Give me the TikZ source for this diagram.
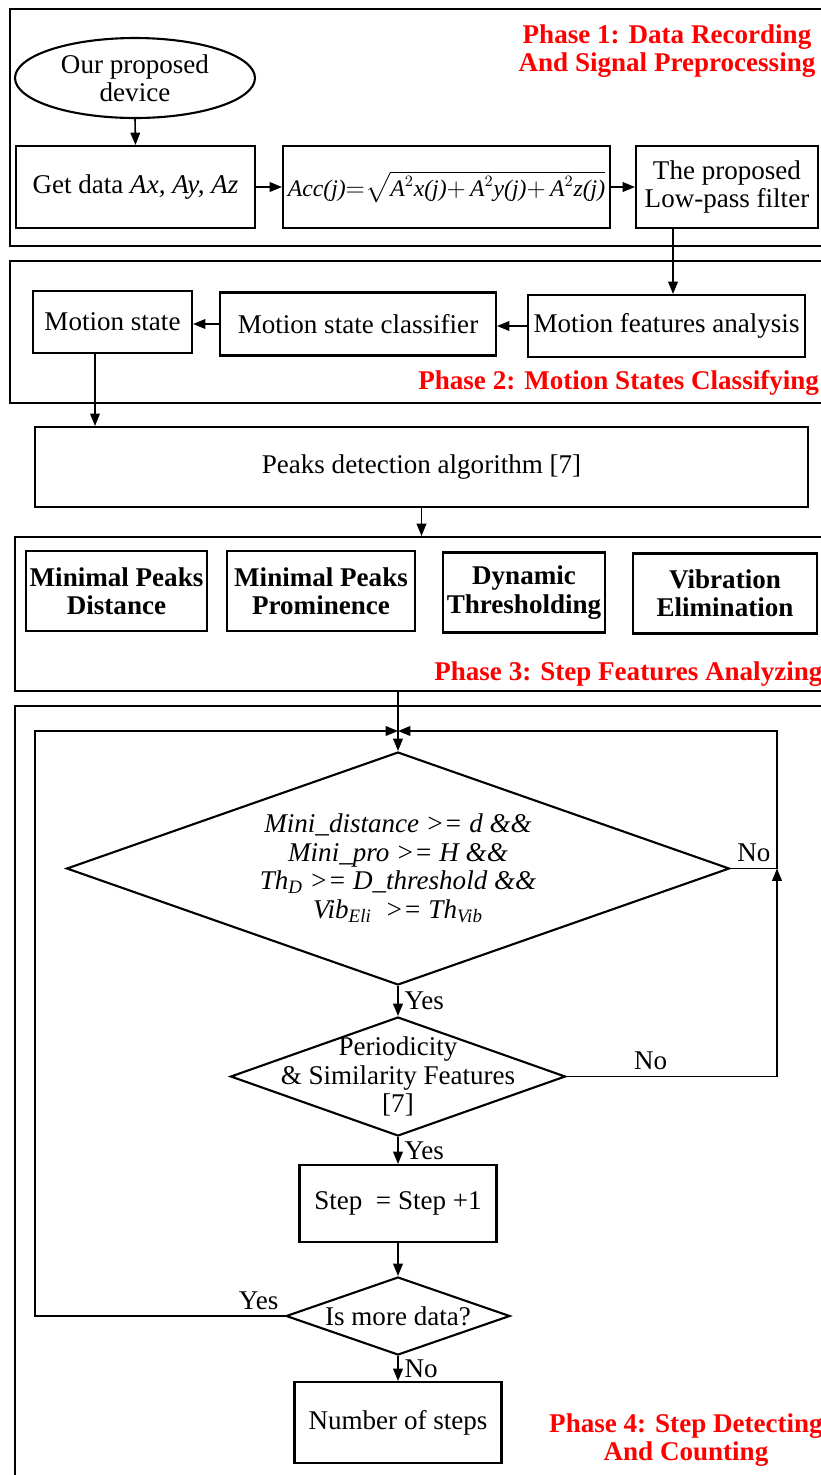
\documentclass[tikz,border=0pt]{standalone}
\usepackage{amsmath}
\usepackage{fontspec}
\setmainfont{Liberation Serif}
\usetikzlibrary{arrows.meta,shapes.geometric}
\newcommand{\nodefont}{\fontsize{15.4}{16.2}\selectfont}

\begin{document}
\begin{tikzpicture}[
    x=0.02cm, y=-0.02cm,
    every node/.style={font=\nodefont, align=center},
    box/.style={rectangle, draw, line width=1.2pt, inner sep=2pt},
    feat/.style={box, font=\nodefont\bfseries, minimum height=1.6cm},
    cond/.style={diamond, draw, line width=1.2pt, inner sep=0pt},
    phase/.style={rectangle, draw, line width=1.2pt},
    phasetitle/.style={text=red, font=\nodefont\bfseries, inner sep=0pt},
    arr/.style={-{Triangle[length=7pt,width=5.5pt]}, line width=0.9pt},
]
    \useasboundingbox (0,0) rectangle (821,1475);

    \node [phase, minimum width=16.5cm, minimum height=4.74cm] (ph1) at (422.5,127.5) {};
    \node [phase, minimum width=16.5cm, minimum height=2.84cm] (ph2) at (422.5,332) {};
    \node [phase, minimum width=16.4cm, minimum height=3.08cm] (ph3) at (425,614) {};
    \node [phase, minimum width=16.4cm, minimum height=15.58cm] (ph4) at (425,1095.5) {};

    \node [phasetitle] (t1) at (667,51) {Phase 1: Data Recording\\And Signal Preprocessing};
    \node [phasetitle, anchor=west] (t2) at (418,383) {Phase 2: Motion States Classifying};
    \node [phasetitle, anchor=west] (t3) at (434,674) {Phase 3: Step Features Analyzing};
    \node [phasetitle] (t4) at (686,1440) {Phase 4: Step Detecting\\And Counting};

    \node [ellipse, draw, line width=1.2pt, inner sep=0pt, minimum width=4.8cm, minimum height=1.6cm] (dev) at (135,78) {Our proposed\\device};
    \node [box, minimum width=4.78cm, minimum height=1.64cm] (get) at (135.5,187) {Get data \textit{Ax, Ay, Az}};
    \node [box, minimum width=6.54cm, minimum height=1.64cm, font=\fontsize{13.5}{15}\selectfont] (acc) at (446.5,187)
        {\textit{Acc(j)}${=}\sqrt{\textit{A}^{2}\textit{x(j)}{+}\,\textit{A}^{2}\textit{y(j)}{+}\,\textit{A}^{2}\textit{z(j)}}$};
    \node [box, minimum width=3.64cm, minimum height=1.64cm] (lpf) at (727,187) {The proposed\\Low-pass filter};

    \draw [arr] (dev.south) -- (get.north);
    \draw [arr] (get) -- (acc);
    \draw [arr] (acc) -- (lpf);

    \node [box, minimum width=3.18cm, minimum height=1.24cm] (ms) at (112.5,322) {Motion state};
    \node [box, minimum width=5.52cm, minimum height=1.26cm] (msc) at (358,324) {Motion state classifier};
    \node [box, minimum width=5.54cm, minimum height=1.24cm] (mfa) at (666.5,326) {Motion features analysis};

    \draw [arr] ([xshift=-1.08cm]lpf.south) -- ([xshift=-1.08cm]lpf.south |- mfa.north);
    \draw [arr] (mfa.west) -- (mfa.west -| msc.east);
    \draw [arr] (msc.west) -- (msc.west -| ms.east);

    \node [box, minimum width=15.46cm, minimum height=1.6cm] (peaks) at (421.5,467) {Peaks detection algorithm [7]};
    \draw [arr, line width=0.6pt] ([xshift=-0.35cm]ms.south) -- ([xshift=-0.35cm]ms.south |- peaks.north);
    \draw [arr] (peaks.south) -- (peaks.south |- ph3.north);

    \node [feat, minimum width=3.62cm] (f1) at (116.5,591) {Minimal Peaks\\Distance};
    \node [feat, minimum width=3.76cm] (f2) at (321,591) {Minimal Peaks\\Prominence};
    \node [feat, minimum width=3.24cm] (f3) at (524,592.5) {Dynamic\\Thresholding};
    \node [feat, minimum width=3.68cm] (f4) at (725,593.5) {Vibration\\Elimination};

    \coordinate (jn) at (398,731);
    \coordinate (lt) at (35,731);
    \coordinate (rt) at (777,731);

    \node [cond, minimum width=13.26cm, minimum height=4.66cm,
        label={center:{\textit{Mini\_distance >= d \&\&}\\\textit{Mini\_pro >= H \&\&}\\\textit{Th}$_{\textit{D}}$ \textit{>= D\_threshold \&\&}\\\textit{Vib}$_{\textit{Eli}}$\ \ \textit{>= Th}$_{\textit{Vib}}$}}] (c1) at (398,868.5) {};
    \node [cond, minimum width=6.7cm, minimum height=2.38cm,
        label={center:{Periodicity\\\& Similarity Features\\{[7]}}}] (c2) at (398,1076.5) {};
    \node [box, minimum width=3.94cm, minimum height=1.54cm] (step) at (398,1203.5) {Step\ \ = Step +1};
    \node [cond, minimum width=4.48cm, minimum height=1.56cm, label={center:{Is more data?}}] (c3) at (398,1316) {};
    \node [box, minimum width=4.14cm, minimum height=1.62cm] (num) at (398,1422.5) {Number of steps};

    \draw [arr] (ph3.south -| c1.north) -- (c1.north);
    \draw [arr] (c1.south) -- (c2.north) node [midway, right] {Yes};
    \draw [arr] (c2.south) -- (step.north) node [midway, right] {Yes};
    \draw [arr] (step.south) -- (c3.north);
    \draw [arr] (c3.south) -- (num.north) node [midway, right] {No};
    \draw [arr] (c3.west) node [above left] {Yes} -| (lt) -- (jn);
    \draw [arr] (c2.east) -| node [pos=0.2, above] {No} (rt |- c1.east);
    \draw [arr] (c1.east) -- (rt |- c1.east) node [above left] {No} -- (rt) -- (jn);
\end{tikzpicture}
\end{document}
